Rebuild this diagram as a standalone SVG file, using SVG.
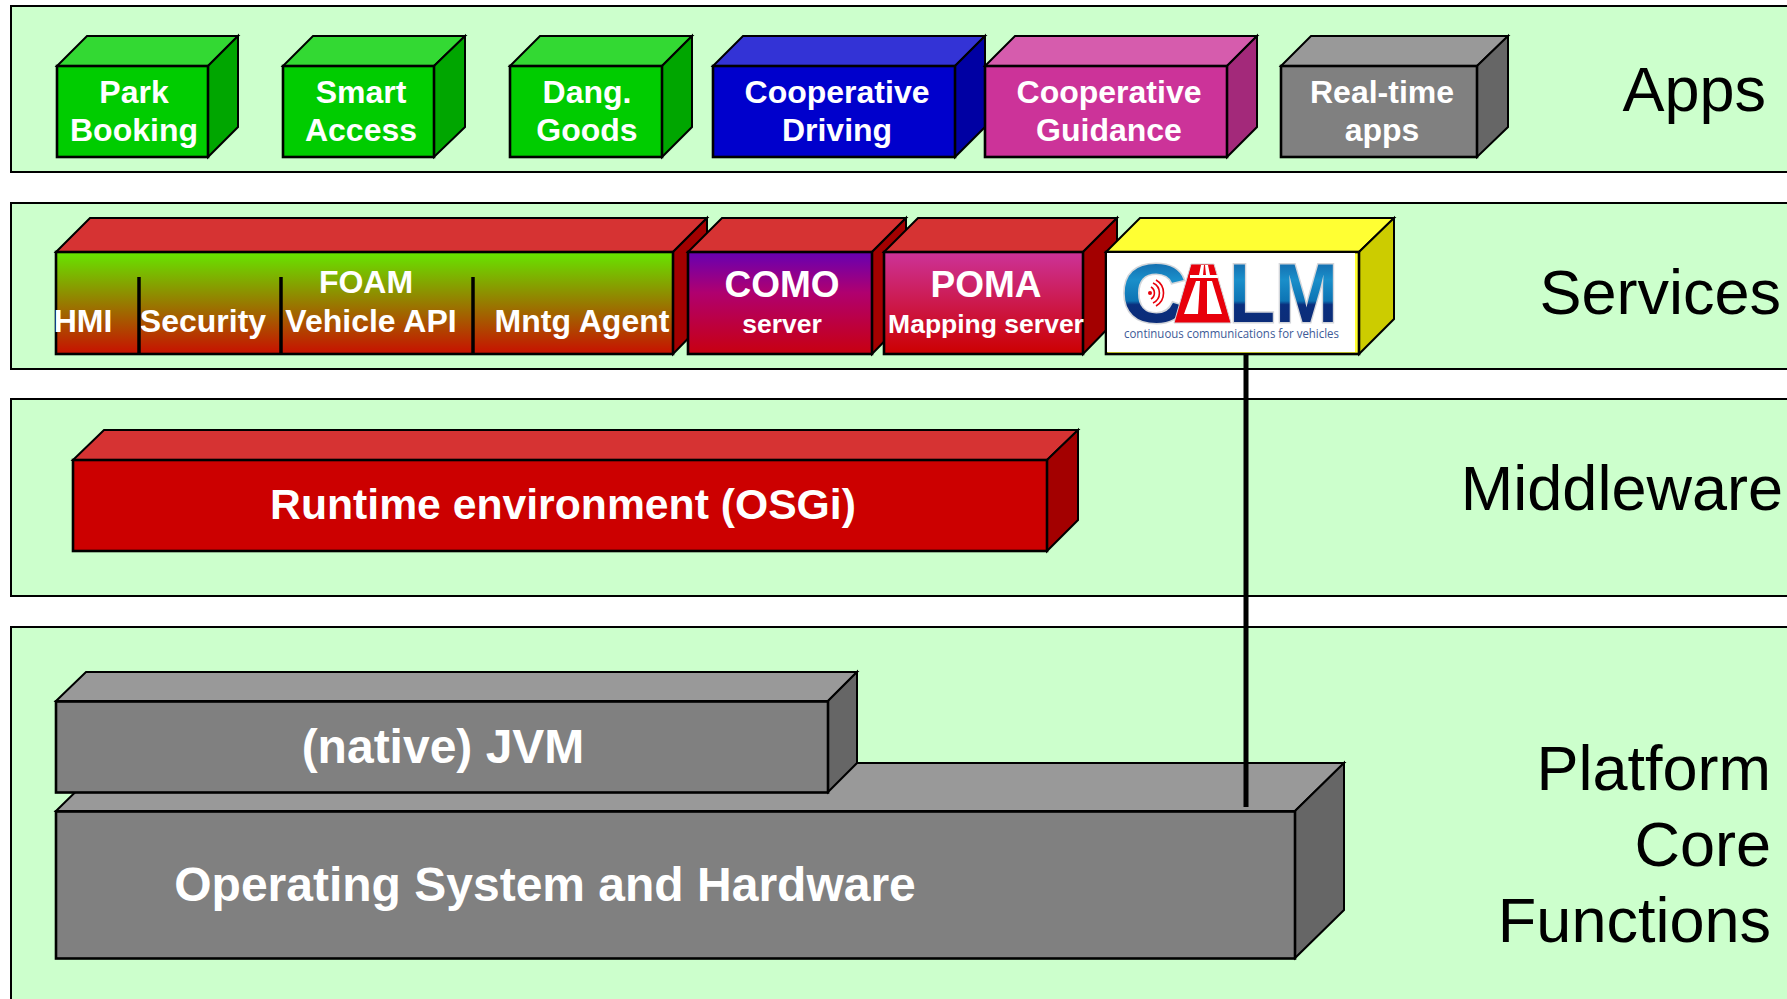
<svg xmlns="http://www.w3.org/2000/svg" width="1787" height="999" viewBox="0 0 1787 999">
<style>
text{font-family:"Liberation Sans",Arial,sans-serif}
.band{fill:#ccffcc;stroke:#000;stroke-width:2}
.e{stroke:#000;stroke-width:2;stroke-linejoin:miter}
.f{stroke:#000;stroke-width:2.6}
.t{fill:#fff;font-weight:bold;text-anchor:middle}
.l{fill:#000;text-anchor:end;font-size:63px}
.s26{font-size:32px}.s30{font-size:26.5px}.s37{font-size:37px}
.gf{fill:#00cc00}.gt{fill:#33d933}.gs{fill:#00a600}
.rf{fill:#cc0000}.rt{fill:#d63333}.rs{fill:#a30000}
.kf{fill:#808080}.kt{fill:#999999}.ks{fill:#666666}
.lg{fill:url(#logo);font-weight:bold;font-size:83px;stroke:#d4d6da;stroke-width:3;paint-order:stroke}
.w{fill:none;stroke:#e8000b;stroke-width:1.6}
</style>
<defs>
<linearGradient id="foam" x1="0" y1="0" x2="0" y2="1"><stop offset="0" stop-color="#66e600"/><stop offset="1" stop-color="#c81000"/></linearGradient>
<linearGradient id="como" x1="0" y1="0" x2="0" y2="1"><stop offset="0" stop-color="#6600b3"/><stop offset="0.4" stop-color="#b0006f"/><stop offset="1" stop-color="#c80010"/></linearGradient>
<linearGradient id="poma" x1="0" y1="0" x2="0" y2="1"><stop offset="0" stop-color="#cc3399"/><stop offset="1" stop-color="#cc0000"/></linearGradient>
<linearGradient id="logo" x1="0" y1="0" x2="0" y2="1"><stop offset="0" stop-color="#0f4f96"/><stop offset="0.35" stop-color="#1a8fca"/><stop offset="0.58" stop-color="#0d74b4"/><stop offset="0.62" stop-color="#0a2f7e"/><stop offset="1" stop-color="#0d2a73"/></linearGradient>
</defs>
<g id="bands">
<rect class="band" x="11" y="6" width="1790" height="166"/>
<rect class="band" x="11" y="203" width="1790" height="166"/>
<rect class="band" x="11" y="399" width="1790" height="197"/>
<rect class="band" x="11" y="627" width="1790" height="390"/>
</g>
<g id="layer-labels">
<text class="l" x="1766" y="111">Apps</text>
<text class="l" x="1781" y="314">Services</text>
<text class="l" x="1783" y="510">Middleware</text>
<text class="l" x="1771" y="790">Platform</text>
<text class="l" x="1771" y="866">Core</text>
<text class="l" x="1771" y="942">Functions</text>
</g>
<g id="os">
<polygon class="e kt" points="56,811 105,763 1344,763 1295,811"/>
<polygon class="e ks" points="1295,811 1344,763 1344,910 1295,958"/>
<rect class="f kf" x="56" y="811.5" width="1239" height="147"/>
<text class="t" x="545" y="901" style="font-size:48px">Operating System and Hardware</text>
</g>
<g id="jvm">
<polygon class="e kt" points="56,701 86,672 857,672 828,701"/>
<polygon class="e ks" points="828,701 857,672 857,763 828,792"/>
<rect class="f kf" x="56" y="701.5" width="772" height="91"/>
<text class="t" x="443" y="763" style="font-size:48px">(native) JVM</text>
</g>
<g id="runtime">
<polygon class="e rt" points="73,460 104,430 1078,430 1047,460"/>
<polygon class="e rs" points="1047,460 1078,430 1078,520 1047,551"/>
<rect class="f rf" x="73" y="460" width="974" height="91"/>
<text class="t" x="563" y="519" style="font-size:42.7px">Runtime environment (OSGi)</text>
</g>
<g id="park">
<polygon class="e gt" points="57,66 87,36 238,36 208,66"/><polygon class="e gs" points="208,66 238,36 238,127 208,157"/>
<rect class="f gf" x="57" y="66" width="151" height="91"/>
<text class="t s26" x="134" y="103">Park</text><text class="t s26" x="134" y="141">Booking</text>
</g>
<g id="smart">
<polygon class="e gt" points="283,66 313,36 465,36 434,66"/><polygon class="e gs" points="434,66 465,36 465,127 434,157"/>
<rect class="f gf" x="283" y="66" width="151" height="91"/>
<text class="t s26" x="361" y="103">Smart</text><text class="t s26" x="361" y="141">Access</text>
</g>
<g id="dang">
<polygon class="e gt" points="510,66 540,36 692,36 662,66"/><polygon class="e gs" points="662,66 692,36 692,127 662,157"/>
<rect class="f gf" x="510" y="66" width="152" height="91"/>
<text class="t s26" x="587" y="103">Dang.</text><text class="t s26" x="587" y="141">Goods</text>
</g>
<g id="driving">
<polygon class="e" fill="#3333d6" points="713,66 743,36 985,36 955,66"/><polygon class="e" fill="#0000a3" points="955,66 985,36 985,127 955,157"/>
<rect class="f" fill="#0000cc" x="713" y="66" width="242" height="91"/>
<text class="t s26" x="837" y="103">Cooperative</text><text class="t s26" x="837" y="141">Driving</text>
</g>
<g id="guidance">
<polygon class="e" fill="#d65cad" points="985,66 1015,36 1257,36 1227,66"/><polygon class="e" fill="#a3297a" points="1227,66 1257,36 1257,127 1227,157"/>
<rect class="f" fill="#cc3399" x="985" y="66" width="242" height="91"/>
<text class="t s26" x="1109" y="103">Cooperative</text><text class="t s26" x="1109" y="141">Guidance</text>
</g>
<g id="realtime">
<polygon class="e kt" points="1281,66 1311,36 1508,36 1477,66"/><polygon class="e ks" points="1477,66 1508,36 1508,127 1477,157"/>
<rect class="f kf" x="1281" y="66" width="196" height="91"/>
<text class="t s26" x="1382" y="103">Real-time</text><text class="t s26" x="1382" y="141">apps</text>
</g>
<g id="foam-box">
<polygon class="e rt" points="56,252 90,218 707,218 673,252"/><polygon class="e rs" points="673,252 707,218 707,319 673,354"/>
<rect class="f" fill="url(#foam)" x="56" y="252" width="617" height="102"/>
<text class="t s26" x="366" y="293">FOAM</text>
<text class="t s26" x="83" y="332">HMI</text>
<text class="t s26" x="203" y="332">Security</text>
<text class="t s26" x="371" y="332">Vehicle API</text>
<text class="t s26" x="582" y="332">Mntg Agent</text>
</g>
<g id="como">
<polygon class="e rt" points="688,252 722,218 906,218 872,252"/><polygon class="e rs" points="872,252 906,218 906,319 872,354"/>
<rect class="f" fill="url(#como)" x="688" y="252" width="184" height="102"/>
<text class="t s37" x="782" y="297">COMO</text>
<text class="t s30" x="782" y="333">server</text>
</g>
<g id="poma">
<polygon class="e rt" points="884,252 918,218 1117,218 1083,252"/><polygon class="e rs" points="1083,252 1117,218 1117,319 1083,354"/>
<rect class="f" fill="url(#poma)" x="884" y="252" width="199" height="102"/>
<text class="t s37" x="986" y="297">POMA</text>
<text class="t s30" x="986" y="333">Mapping server</text>
</g>
<g id="calm">
<polygon class="e" fill="#ffff33" points="1106,252 1140,218 1394,218 1359,252"/><polygon class="e" fill="#cccc00" points="1359,252 1394,218 1394,319 1359,354"/>
<rect class="f" fill="#ffff33" x="1106" y="252" width="253" height="102"/>
<rect x="1107" y="253" width="248" height="99" fill="#fff"/>
<text class="lg" x="1121" y="322" textLength="66" lengthAdjust="spacingAndGlyphs">C</text>
<polygon points="1174,323 1191,264 1214,264 1231,323" fill="#e8000b" stroke="#d4d6da" stroke-width="1"/>
<polygon points="1184,314 1198,314 1200,281 1196,281" fill="#fff"/>
<polygon points="1207,314 1222,314 1212,281 1207,281" fill="#fff"/>
<polygon points="1199,275 1203,275 1204,265 1201,265" fill="#fff"/>
<polygon points="1206,275 1210,275 1208,265 1205,265" fill="#fff"/>
<rect x="1190" y="275" width="28" height="3" fill="#fff"/>
<text class="lg" x="1229" y="322" textLength="109" lengthAdjust="spacingAndGlyphs">LM</text>
<circle cx="1150" cy="293" r="2" fill="#e8000b"/>
<path class="w" d="M1151,287 A7,7 0 0 1 1151,299"/>
<path class="w" d="M1153,283 A11,11 0 0 1 1153,303"/>
<path class="w" d="M1156,280 A15,15 0 0 1 1156,306"/>
<text x="1124" y="338" fill="#3d5a97" style="font-family:'Open Sans','Liberation Sans',sans-serif;font-size:13px" textLength="215" lengthAdjust="spacingAndGlyphs">continuous communications for vehicles</text>
</g>
<g id="connectors">
<line x1="1246" y1="354" x2="1246" y2="807" stroke="#000" stroke-width="5"/>
<line x1="139" y1="277" x2="139" y2="354" stroke="#000" stroke-width="3.5"/>
<line x1="281" y1="277" x2="281" y2="354" stroke="#000" stroke-width="3.5"/>
<line x1="473" y1="277" x2="473" y2="354" stroke="#000" stroke-width="3.5"/>
</g>
</svg>
